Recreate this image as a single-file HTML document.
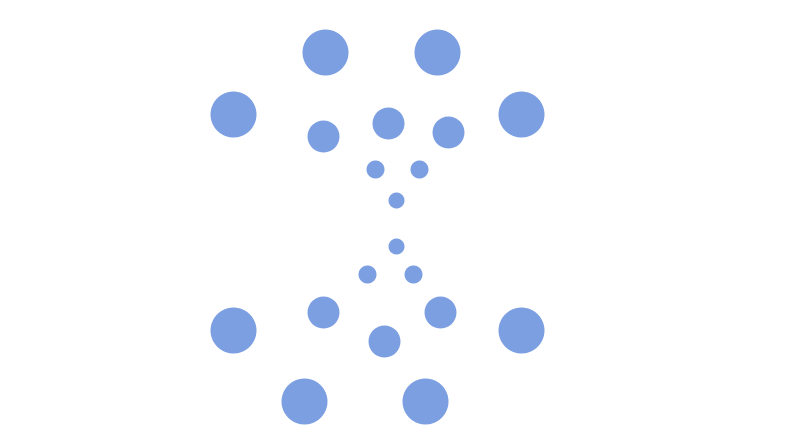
<!DOCTYPE html>
<html><head><meta charset="utf-8"><style>
html,body{margin:0;padding:0;background:#fff;width:788px;height:444px;overflow:hidden}
</style></head><body>
<svg width="788" height="444" viewBox="0 0 788 444" xmlns="http://www.w3.org/2000/svg">
<g fill="#7c9fe2" transform="translate(0.5,0.5)">
<circle cx="325" cy="52" r="23"/>
<circle cx="437" cy="52" r="23"/>
<circle cx="233" cy="114" r="23"/>
<circle cx="521" cy="114" r="23"/>
<circle cx="323" cy="136" r="16"/>
<circle cx="388" cy="123" r="16"/>
<circle cx="448" cy="132" r="16"/>
<circle cx="375" cy="169" r="9"/>
<circle cx="419" cy="169" r="9"/>
<circle cx="396" cy="200" r="8"/>
<circle cx="396" cy="246" r="8"/>
<circle cx="367" cy="274" r="9"/>
<circle cx="413" cy="274" r="9"/>
<circle cx="323" cy="312" r="16"/>
<circle cx="440" cy="312" r="16"/>
<circle cx="384" cy="341" r="16"/>
<circle cx="233" cy="330" r="23"/>
<circle cx="521" cy="330" r="23"/>
<circle cx="304" cy="401" r="23"/>
<circle cx="425" cy="401" r="23"/>
</g>
</svg>
</body></html>
